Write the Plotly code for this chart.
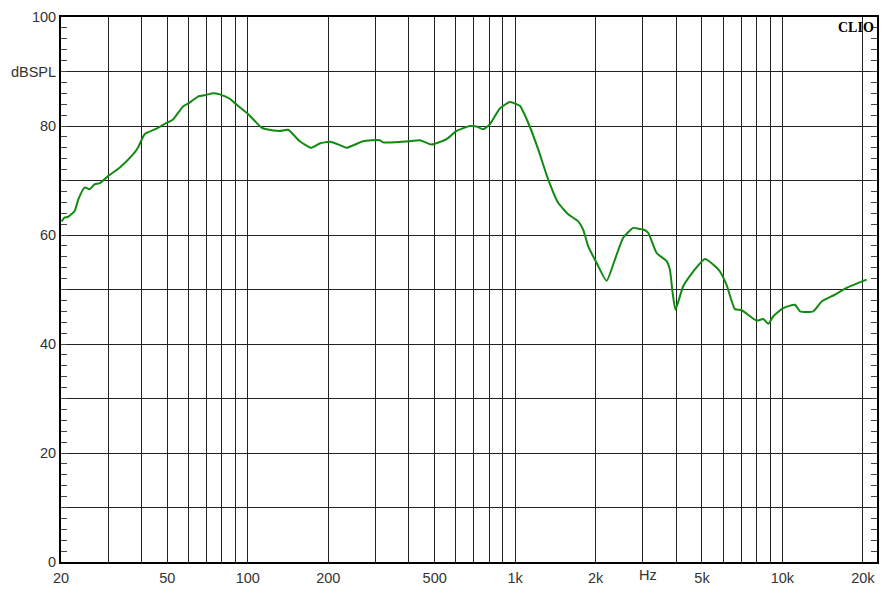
import math
import plotly.graph_objects as go

# Frequency response (Hz, dB SPL)
freq_hz = [20.1, 20.6, 21.2, 22.5, 23.2, 24.5, 25.6, 26.7, 27.9, 30.0, 33.2, 37.2, 38.8, 41.1,
           45.5, 48.9, 52.5, 57.2, 60.6, 65.1, 70.0, 74.1, 78.5, 85.6, 89.4, 100.2, 112.5,
           117.4, 131.7, 141.4, 156.5, 173.0, 185.9, 202.6, 220.8, 234.0, 270.0, 311.7, 320.7,
           403.6, 440.0, 486.7, 553.9, 603.8, 677.0, 717.2, 759.2, 804.2, 876.8, 955.6, 1012,
           1042, 1119, 1220, 1329, 1449, 1580, 1722, 1797, 1877, 2017, 2199, 2362, 2537, 2765,
           2930, 3014, 3147, 3383, 3688, 3794, 3884, 3978, 4254, 4638, 5129, 5675, 5838, 6186,
           6643, 7038, 8010, 8478, 8852, 9242, 10072, 11140, 11632, 13046, 14022, 15498, 17398,
           20660]
spl_db = [62.5, 63.2, 63.3, 64.4, 66.5, 68.7, 68.4, 69.3, 69.5, 70.8, 72.4, 74.8, 76.0, 78.5,
          79.5, 80.4, 81.2, 83.6, 84.3, 85.4, 85.7, 86.0, 85.8, 85.0, 84.2, 82.2, 79.7,
          79.4, 79.1, 79.3, 77.2, 76.0, 76.8, 77.1, 76.5, 76.0, 77.2, 77.4, 77.0,
          77.2, 77.4, 76.6, 77.6, 79.1, 80.0, 79.9, 79.4, 80.3, 83.2, 84.4, 84.0,
          83.7, 80.6, 75.7, 70.2, 65.9, 63.8, 62.5, 61.0, 57.9, 54.9, 51.6, 55.5, 59.5, 61.3,
          61.1, 61.0, 60.4, 56.7, 55.2, 53.6, 49.4, 46.3, 50.6, 53.3, 55.6, 54.0, 53.3, 50.8,
          46.4, 46.2, 44.3, 44.6, 43.7, 45.1, 46.6, 47.2, 46.0, 46.0, 47.8, 48.9, 50.3,
          51.8]

# Axis grid / tick labels
x_grid = [30, 40, 50, 60, 70, 80, 90, 100, 200, 300, 400, 500, 600, 700, 800, 900,
          1000, 2000, 3000, 4000, 5000, 6000, 7000, 8000, 9000, 10000, 20000]
x_labels = {20: "20", 50: "50", 100: "100", 200: "200", 500: "500", 1000: "1k",
            2000: "2k", 5000: "5k", 10000: "10k", 20000: "20k"}
y_ticks = [0, 10, 20, 30, 40, 50, 60, 70, 80, 90, 100]
y_labels = ["0", "", "20", "", "40", "", "60", "", "80", "dBSPL", "100"]

x_tickvals = [20] + x_grid
x_ticktext = [x_labels.get(v, "") for v in x_tickvals]

fig = go.Figure()
fig.add_trace(go.Scatter(x=freq_hz, y=spl_db, mode="lines",
                         line=dict(color="#128a12", width=2, shape="spline", smoothing=0.5),
                         showlegend=False, hoverinfo="skip"))

font = dict(family="Liberation Sans, Arial, sans-serif", size=14.5, color="#333333")

# the page body adds an 8px offset; margins compensate for it
fig.update_layout(
    width=896, height=597,
    margin=dict(l=53, r=27, t=9, b=43),
    paper_bgcolor="white", plot_bgcolor="white",
    font=font,
    xaxis=dict(type="log", range=[math.log10(20), 4.3538], automargin=False,
               tickmode="array", tickvals=x_tickvals, ticktext=x_ticktext,
               ticks="", showgrid=True, gridcolor="#222222", gridwidth=1,
               showline=True, linecolor="black", linewidth=2, mirror=True,
               zeroline=False, tickfont=font, ticklabelstandoff=2),
    yaxis=dict(range=[0, 100], tickmode="array", tickvals=y_ticks, ticktext=y_labels,
               automargin=False,
               ticks="inside", ticklen=6, tickcolor="#444444",
               minor=dict(dtick=2, ticks="inside", ticklen=6, tickcolor="#444444",
                          showgrid=False),
               showgrid=True, gridcolor="#222222", gridwidth=1,
               showline=True, linecolor="black", linewidth=2, mirror="ticks",
               zeroline=False, tickfont=font),
)

fig.add_annotation(x=math.log10(3150), y=0, xref="x", yref="paper", yanchor="top",
                   yshift=-3, text="Hz", showarrow=False, font=font)
fig.add_annotation(x=1, y=1, xref="paper", yref="paper", xanchor="right", yanchor="top",
                   xshift=-1, yshift=-1, text="<b>CLIO</b>", showarrow=False,
                   font=dict(family="Liberation Serif, Times New Roman, serif", size=14,
                             color="black"))

fig.write_html("out.html")
